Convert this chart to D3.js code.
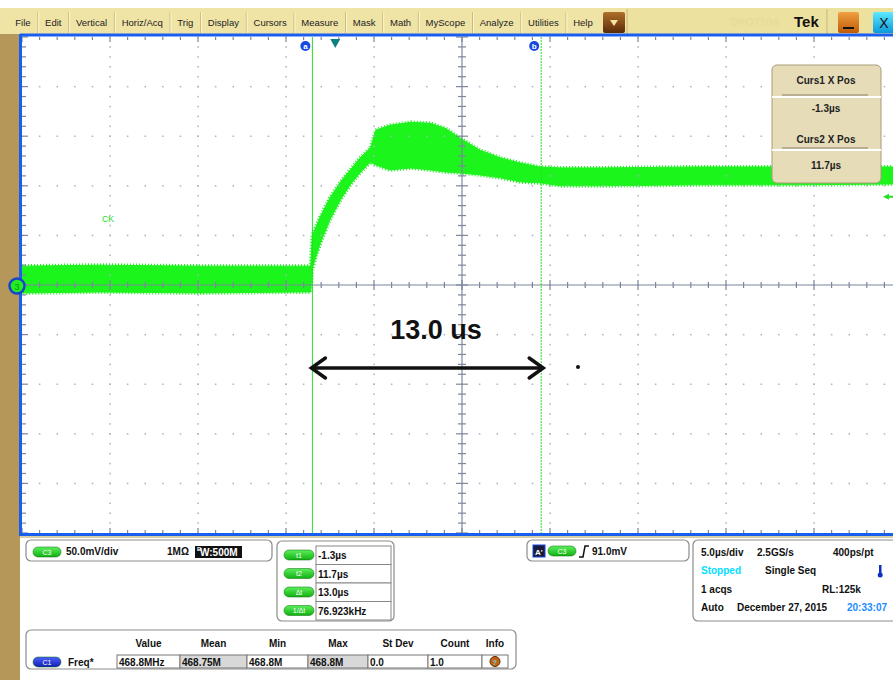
<!DOCTYPE html>
<html>
<head>
<meta charset="utf-8">
<script src="https://cdn.jsdelivr.net/npm/d3@7"></script>
<style>
  body { margin: 0; background: #fff; }
  svg { display: block; font-family: "Liberation Sans", Arial, sans-serif; }
</style>
</head>
<body>
<script>
// ---- data ----
var menuItems = ["File", "Edit", "Vertical", "Horiz/Acq", "Trig", "Display", "Cursors",
                 "Measure", "Mask", "Math", "MyScope", "Analyze", "Utilities", "Help"];

// waveform envelope (C3), time in us, upper / lower edge of the noise band in mV
var timeUs  = [-17.8, -13.4, -7.7, -2.0, -1.4, -1.3, -0.85, -0.3, 0.3, 0.85, 1.4, 2.0, 2.3, 3.1,
               4.3, 5.4, 6.25, 7.1, 8.2, 9.4, 10.5, 11.6, 12.8, 15.1, 20.7, 26.4, 32.2];
var upperMv = [19, 20, 19, 19, 19, 50, 69, 88, 104, 116, 128, 138, 156, 161,
               164, 163, 158, 148, 136, 128, 123, 119, 118, 118, 119, 119, 119];
var lowerMv = [-8, -7, -8, -7, -7, 17, 42, 66, 86, 101, 113, 124, 121, 116,
               118, 116, 114, 113, 111, 108, 104, 103, 100, 100, 101, 101, 102];

var cursorTimes = [-1.3, 11.7];
var cursorNames = ["a", "b"];
var triggerLevelMv = 91;

var cursBoxTitles = ["Curs1 X Pos", "Curs2 X Pos"];
var cursBoxValues = ["-1.3µs", "11.7µs"];

var cursLabels = ["t1", "t2", "Δt", "1/Δt"];
var cursValues = ["-1.3µs", "11.7µs", "13.0µs", "76.923kHz"];

var measHeaders = ["Value", "Mean", "Min", "Max", "St Dev", "Count", "Info"];
var measValues  = ["468.8MHz", "468.75M", "468.8M", "468.8M", "0.0", "1.0"];

var horizRows = [
  [["5.0µs/div", "#111"], ["2.5GS/s", "#111"], ["400ps/pt", "#111"]],
  [["Stopped", "#00e0ff"], ["Single Seq", "#111"]],
  [["1 acqs", "#111"], ["RL:125k", "#111"]],
  [["Auto", "#111"], ["December 27, 2015", "#111"], ["20:33:07", "#1a8cff"]]
];

// ---- canvas ----
var width = 893, height = 680;
var svg = d3.select("body").append("svg")
    .attr("width", width).attr("height", height);

// scales: 5 us/div, 50 mV/div, 10 x 10 divisions
var x = d3.scaleLinear().domain([-17.8, 32.2]).range([22, 902]);
var y = d3.scaleLinear().domain([-250, 250]).range([533, 37]);

// background pieces
svg.append("rect").attr("x", 0).attr("y", 0).attr("width", width).attr("height", height).attr("fill", "#fff");
svg.append("rect").attr("x", 0).attr("y", 34).attr("width", 20).attr("height", 646).attr("fill", "#b5975a");
svg.append("rect").attr("x", 20).attr("y", 536).attr("width", 873).attr("height", 2).attr("fill", "#d8cfa8");

// gradients
var defs = svg.append("defs");
function vgrad(id, c0, c1) {
  var g = defs.append("linearGradient").attr("id", id).attr("x1", 0).attr("x2", 0).attr("y1", 0).attr("y2", 1);
  g.append("stop").attr("offset", "0%").attr("stop-color", c0);
  g.append("stop").attr("offset", "100%").attr("stop-color", c1);
}
vgrad("brownBtn", "#b0702a", "#5a2a08");
vgrad("orangeBtn", "#f0a040", "#c05a08");
vgrad("cyanBtn", "#60e8ff", "#0a9ad8");
vgrad("greenPill", "#5cf05c", "#10b010");
vgrad("bluePill", "#4a60ff", "#1020b0");

// ---- menu bar ----
var menu = svg.append("g");
menu.append("rect").attr("x", 0).attr("y", 8).attr("width", width).attr("height", 26).attr("fill", "#efe4a6");
menu.append("rect").attr("x", 627).attr("y", 8).attr("width", 266).attr("height", 26).attr("fill", "#ece19f");
menu.append("line").attr("x1", 627).attr("x2", 627).attr("y1", 9).attr("y2", 34).attr("stroke", "#c9b878");

// measure text widths, then spread the items between x=8 and x=600
var labels = menuItems.map(function(name) {
  return menu.append("text").attr("y", 26).attr("font-size", 9.5).attr("fill", "#222").text(name);
});
var widths = labels.map(function(t) { return t.node().getComputedTextLength(); });
var pad = (600 - 8 - d3.sum(widths)) / (menuItems.length * 2);
var mx = 8;
labels.forEach(function(t, i) {
  t.attr("x", mx + pad);
  mx = mx + 2 * pad + widths[i];
  if (i < menuItems.length - 1) {
    menu.append("line").attr("x1", mx).attr("x2", mx).attr("y1", 12).attr("y2", 33).attr("stroke", "#cdbb7c");
    menu.append("line").attr("x1", mx + 1).attr("x2", mx + 1).attr("y1", 12).attr("y2", 33).attr("stroke", "#fbf5d0");
  }
});

menu.append("rect").attr("x", 603).attr("y", 12).attr("width", 22).attr("height", 21).attr("rx", 2).attr("fill", "url(#brownBtn)");
menu.append("path").attr("d", "M610,20 L618,20 L614,26 Z").attr("fill", "#f5e6a0");
menu.append("text").attr("x", 730).attr("y", 26).attr("font-size", 11).attr("font-weight", "bold")
    .attr("fill", "#e7dc9a").text("DPO7104");
menu.append("text").attr("x", 794).attr("y", 27).attr("font-size", 15).attr("font-weight", "bold")
    .attr("fill", "#111").text("Tek");
menu.append("line").attr("x1", 827).attr("x2", 827).attr("y1", 9).attr("y2", 34).attr("stroke", "#c9b878");
menu.append("rect").attr("x", 838).attr("y", 12).attr("width", 21).attr("height", 21).attr("rx", 2).attr("fill", "url(#orangeBtn)");
menu.append("rect").attr("x", 843).attr("y", 27).attr("width", 11).attr("height", 2).attr("fill", "#111");
menu.append("rect").attr("x", 873).attr("y", 12).attr("width", 22).attr("height", 21).attr("rx", 2).attr("fill", "url(#cyanBtn)");
menu.append("text").attr("x", 884).attr("y", 28).attr("text-anchor", "middle").attr("font-size", 14)
    .attr("fill", "#111").text("X");

// ---- plot area ----
var plot = svg.append("g");
var x0 = x.range()[0], x1 = x.range()[1], yTop = y.range()[1], yBot = y.range()[0];

// waveform envelope
var wave = timeUs.map(function(t, i) { return { t: t, hi: upperMv[i], lo: lowerMv[i] }; });
var area = d3.area().x(function(d) { return x(d.t); })
    .y0(function(d) { return y(d.lo); }).y1(function(d) { return y(d.hi); });
plot.append("path").datum(wave).attr("d", area)
    .attr("fill", "#1cf51c").attr("stroke", "#1cf51c").attr("stroke-width", 1);
// ragged fringe on the band edges
plot.append("path").datum(wave).attr("d", area)
    .attr("fill", "none").attr("stroke", "#22f022").attr("stroke-width", 4)
    .attr("stroke-dasharray", "1,2");

// graticule dots along major lines
var minorT = d3.range(0, 51).map(function(i) { return -17.8 + i; });
var minorV = d3.range(0, 51).map(function(i) { return -250 + i * 10; });
var grid = plot.append("g").attr("fill", "#a9b1c2");
[1, 2, 3, 4, 6, 7, 8, 9].forEach(function(k) {
  var gx = x(-17.8 + k * 5);
  minorV.forEach(function(v) { grid.append("rect").attr("x", gx - 0.7).attr("y", y(v) - 0.7).attr("width", 1.5).attr("height", 1.5); });
  var gy = y(-250 + k * 50);
  minorT.forEach(function(t) { grid.append("rect").attr("x", x(t) - 0.7).attr("y", gy - 0.7).attr("width", 1.5).attr("height", 1.5); });
});

// centre axes with ticks
var ax = plot.append("g").attr("stroke", "#7d879c").attr("stroke-width", 1.2);
ax.append("line").attr("x1", x0).attr("x2", x1).attr("y1", y(0)).attr("y2", y(0));
ax.append("line").attr("x1", x(7.2)).attr("x2", x(7.2)).attr("y1", yTop).attr("y2", yBot);
minorT.forEach(function(t, i) {
  var L = (i % 5 === 0) ? 5 : 3;
  ax.append("line").attr("x1", x(t)).attr("x2", x(t)).attr("y1", y(0) - L).attr("y2", y(0) + L);
  ax.append("line").attr("x1", x(t)).attr("x2", x(t)).attr("y1", yTop).attr("y2", yTop + L);
  ax.append("line").attr("x1", x(t)).attr("x2", x(t)).attr("y1", yBot).attr("y2", yBot - L);
});
minorV.forEach(function(v, i) {
  var L = (i % 5 === 0) ? 6 : 4;
  ax.append("line").attr("x1", x(7.2) - L).attr("x2", x(7.2) + L).attr("y1", y(v)).attr("y2", y(v));
  ax.append("line").attr("x1", x0).attr("x2", x0 + L).attr("y1", y(v)).attr("y2", y(v));
});

// cursors
plot.append("line").attr("x1", x(cursorTimes[0])).attr("x2", x(cursorTimes[0]))
    .attr("y1", yTop).attr("y2", yBot).attr("stroke", "#22e022").attr("stroke-width", 1);
plot.append("line").attr("x1", x(cursorTimes[1])).attr("x2", x(cursorTimes[1]))
    .attr("y1", yTop).attr("y2", yBot).attr("stroke", "#22e022").attr("stroke-width", 1)
    .attr("stroke-dasharray", "2,1");
cursorTimes.forEach(function(t, i) {
  plot.append("circle").attr("cx", x(t) - 7).attr("cy", 46).attr("r", 5).attr("fill", "#1848e0");
  plot.append("text").attr("x", x(t) - 7).attr("y", 49).attr("text-anchor", "middle")
      .attr("font-size", 8).attr("font-weight", "bold").attr("fill", "#fff").text(cursorNames[i]);
});

// trigger position marker
plot.append("path").attr("d", "M" + (x(0) - 5) + ",39 L" + (x(0) + 5) + ",39 L" + x(0) + ",48 Z")
    .attr("fill", "#0e8080");

// trigger level arrow (right edge)
var ty = y(triggerLevelMv) + 2;
plot.append("line").attr("x1", 886).attr("x2", 893).attr("y1", ty).attr("y2", ty).attr("stroke", "#22e022").attr("stroke-width", 2);
plot.append("path").attr("d", "M883," + ty + " L889," + (ty - 3) + " L889," + (ty + 3) + " Z").attr("fill", "#22e022");

// plot frame (blue)
plot.append("line").attr("x1", 20).attr("x2", width).attr("y1", 35).attr("y2", 35).attr("stroke", "#1a5ef0").attr("stroke-width", 3);
plot.append("line").attr("x1", 20.5).attr("x2", 20.5).attr("y1", 34).attr("y2", 536).attr("stroke", "#1a5ef0").attr("stroke-width", 3);
plot.append("line").attr("x1", 20).attr("x2", width).attr("y1", 534.5).attr("y2", 534.5).attr("stroke", "#1a5ef0").attr("stroke-width", 3);

// ground marker for C3
plot.append("circle").attr("cx", 17).attr("cy", y(0) + 1).attr("r", 7.5)
    .attr("fill", "#22ee22").attr("stroke", "#1a44c8").attr("stroke-width", 2.5);
plot.append("text").attr("x", 17).attr("y", y(0) + 4.5).attr("text-anchor", "middle")
    .attr("font-size", 9).attr("fill", "#0a9a0a").text("3");

// channel label
plot.append("text").attr("x", 102).attr("y", 222).attr("font-size", 8.5).attr("fill", "#22dd22").text("CK");

// annotation
plot.append("text").attr("x", 436).attr("y", 339).attr("text-anchor", "middle")
    .attr("font-size", 27).attr("font-weight", "bold").attr("fill", "#111").text("13.0 us");
var ay = 368, axl = x(cursorTimes[0]) - 1, axr = x(cursorTimes[1]) + 2;
var arr = plot.append("g").attr("stroke", "#111").attr("stroke-width", 3.5).attr("fill", "none").attr("stroke-linecap", "round");
arr.append("line").attr("x1", axl + 2).attr("x2", axr - 2).attr("y1", ay).attr("y2", ay);
arr.append("path").attr("d", "M" + (axl + 14) + "," + (ay - 10) + " L" + axl + "," + ay + " L" + (axl + 14) + "," + (ay + 10));
arr.append("path").attr("d", "M" + (axr - 14) + "," + (ay - 10) + " L" + axr + "," + ay + " L" + (axr - 14) + "," + (ay + 10));
plot.append("circle").attr("cx", 578).attr("cy", 367).attr("r", 2).attr("fill", "#111");

// cursor readout box
var cb = svg.append("g");
cb.append("rect").attr("x", 772).attr("y", 65).attr("width", 109).attr("height", 118).attr("rx", 5)
    .attr("fill", "#e6dcb8").attr("stroke", "#a89c78");
var titleY = [84, 143], sepY = [97, 150], valY = [112, 169];
[0, 1].forEach(function(i) {
  cb.append("text").attr("x", 826).attr("y", titleY[i]).attr("text-anchor", "middle")
      .attr("font-size", 10).attr("font-weight", "bold").attr("fill", "#222").text(cursBoxTitles[i]);
  cb.append("line").attr("x1", 782).attr("x2", 868).attr("y1", sepY[i] - 2).attr("y2", sepY[i] - 2).attr("stroke", "#8a8070").attr("stroke-width", 1);
  cb.append("line").attr("x1", 772).attr("x2", 881).attr("y1", sepY[i]).attr("y2", sepY[i]).attr("stroke", "#fff").attr("stroke-width", 2);
  cb.append("text").attr("x", 826).attr("y", valY[i]).attr("text-anchor", "middle")
      .attr("font-size", 10).attr("font-weight", "bold").attr("fill", "#222").text(cursBoxValues[i]);
});

// ---- bottom panels ----
var bp = svg.append("g").attr("font-size", 10).attr("font-weight", "bold").attr("fill", "#111");
function panel(px, py, w, h) {
  bp.append("rect").attr("x", px).attr("y", py).attr("width", w).attr("height", h).attr("rx", 5)
      .attr("fill", "#fff").attr("stroke", "#8c8c8c").attr("stroke-width", 1.2);
}
function pill(cx, cy, w, label, fillId) {
  bp.append("rect").attr("x", cx - w / 2).attr("y", cy - 5).attr("width", w).attr("height", 10).attr("rx", 5)
      .attr("fill", "url(#" + fillId + ")").attr("stroke", "#0a6a0a").attr("stroke-width", 0.5);
  bp.append("text").attr("x", cx).attr("y", cy + 2.5).attr("text-anchor", "middle")
      .attr("font-size", 7).attr("font-weight", "normal").attr("fill", "#fff").text(label);
}

// channel panel
panel(26, 540, 246, 21);
pill(47, 552, 28, "C3", "greenPill");
bp.append("text").attr("x", 66).attr("y", 555).text("50.0mV/div");
bp.append("text").attr("x", 167).attr("y", 555).text("1MΩ");
bp.append("rect").attr("x", 195).attr("y", 546).attr("width", 47).attr("height", 12).attr("fill", "#111");
bp.append("text").attr("x", 197).attr("y", 551).attr("font-size", 6).attr("fill", "#fff").text("B");
bp.append("text").attr("x", 200).attr("y", 556).attr("fill", "#fff").text("W:500M");

// cursor values panel
panel(277, 541, 117, 80);
cursLabels.forEach(function(lab, i) {
  var ry = 546 + i * 18.5;
  pill(299, ry + 9, 30, lab, "greenPill");
  bp.append("rect").attr("x", 316).attr("y", ry).attr("width", 75).attr("height", 18.5)
      .attr("fill", "#fff").attr("stroke", "#888").attr("stroke-width", 1);
  bp.append("text").attr("x", 318).attr("y", ry + 13).text(cursValues[i]);
});

// trigger panel
panel(527, 540, 162, 21);
bp.append("rect").attr("x", 533).attr("y", 545).attr("width", 12).attr("height", 12).attr("fill", "#1a1a3a").attr("stroke", "#1848e0");
bp.append("text").attr("x", 535).attr("y", 555).attr("font-size", 8).attr("fill", "#fff").text("A'");
pill(562, 551, 28, "C3", "greenPill");
bp.append("path").attr("d", "M579,557 L583,557 L585,546 L589,546").attr("fill", "none").attr("stroke", "#111").attr("stroke-width", 1.5);
bp.append("text").attr("x", 592).attr("y", 555).text("91.0mV");

// horizontal / acquisition panel
panel(693, 540, 215, 81);
var colX = [[701, 757, 833], [701, 765], [701, 822], [701, 737, 847]];
horizRows.forEach(function(row, r) {
  row.forEach(function(cell, c) {
    bp.append("text").attr("x", colX[r][c]).attr("y", 556 + r * 18.3).attr("fill", cell[1]).text(cell[0]);
  });
});
bp.append("rect").attr("x", 879).attr("y", 565).attr("width", 2.5).attr("height", 9).attr("fill", "#1030c0");
bp.append("circle").attr("cx", 880.2).attr("cy", 575).attr("r", 2.5).attr("fill", "#1030c0");

// measurement panel
panel(26, 630, 490, 39);
var cellX = [117, 180, 247, 308, 368, 428, 482, 508];
var cellFill = ["#fff", "#d8d8d8", "#fff", "#d8d8d8", "#fff", "#fff", "#fff"];
measHeaders.forEach(function(h, i) {
  bp.append("text").attr("x", (cellX[i] + cellX[i + 1]) / 2).attr("y", 647).attr("text-anchor", "middle").text(h);
  bp.append("rect").attr("x", cellX[i]).attr("y", 655).attr("width", cellX[i + 1] - cellX[i]).attr("height", 13)
      .attr("fill", cellFill[i]).attr("stroke", "#777").attr("stroke-width", 1);
  if (i < measValues.length) {
    bp.append("text").attr("x", cellX[i] + 2).attr("y", 665.5).text(measValues[i]);
  }
});
bp.append("circle").attr("cx", 495).attr("cy", 661.5).attr("r", 5).attr("fill", "#c86010").attr("stroke", "#5a2a00");
bp.append("text").attr("x", 495).attr("y", 664.5).attr("text-anchor", "middle").attr("font-size", 7).attr("fill", "#30e0ff").text("?");
pill(47, 662, 28, "C1", "bluePill");
bp.append("text").attr("x", 68).attr("y", 665.5).text("Freq*");
</script>
</body>
</html>
